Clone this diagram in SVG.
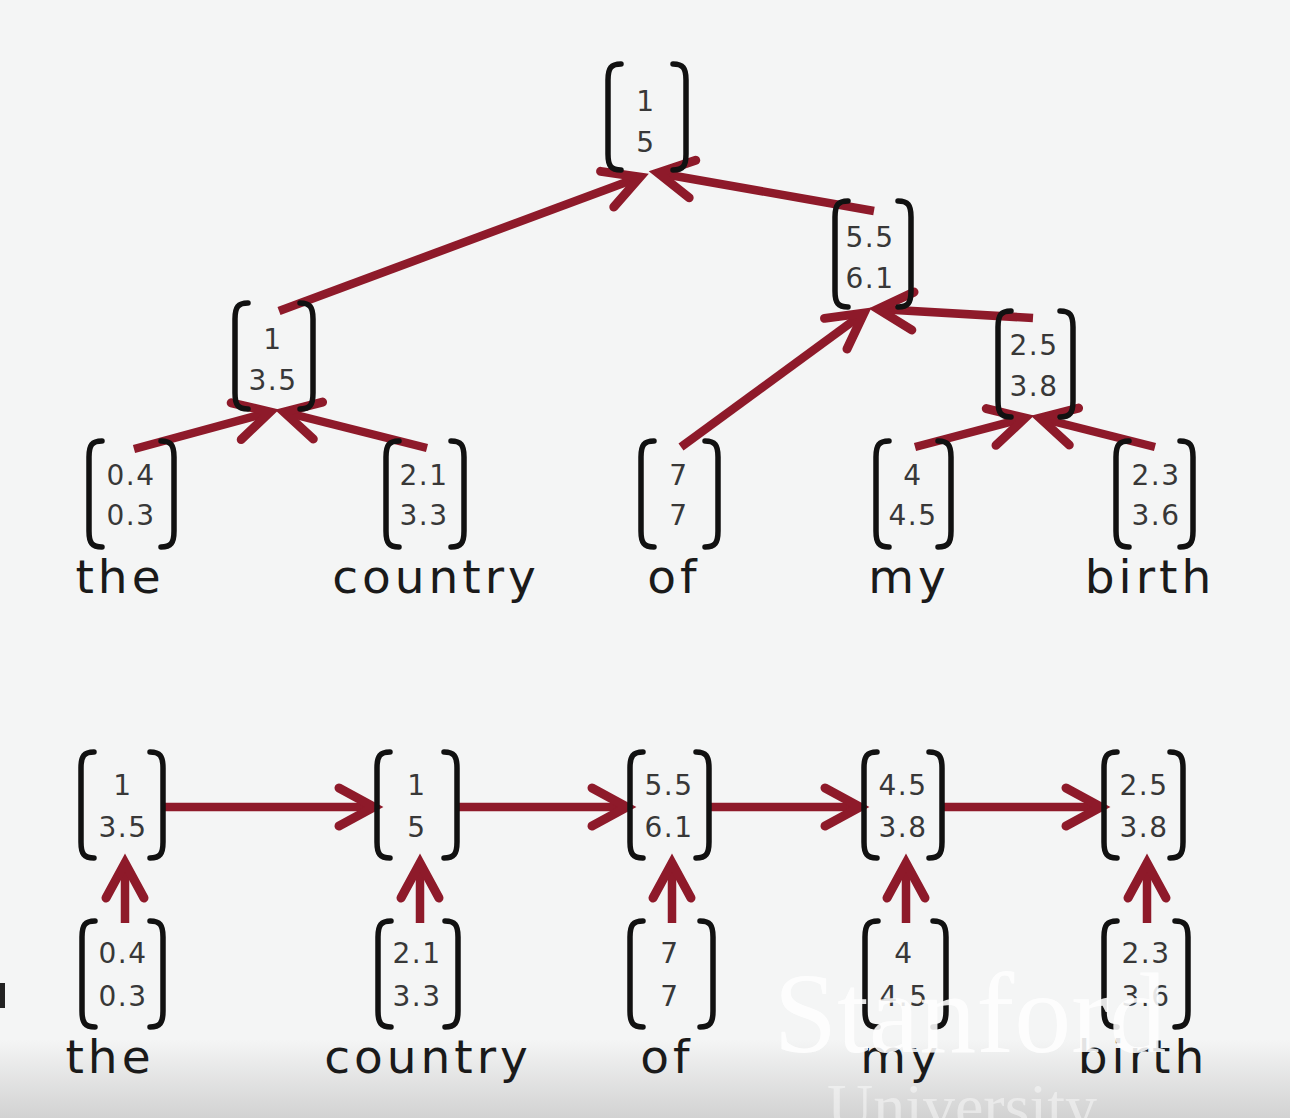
<svg xmlns="http://www.w3.org/2000/svg" width="1290" height="1118" viewBox="0 0 1290 1118">
<style>
.br{fill:none;stroke:#111;stroke-width:5.5;stroke-linecap:round}
.num{font-family:"DejaVu Sans",Verdana,sans-serif;font-size:28px;fill:#383838;text-anchor:middle;letter-spacing:1.5px}
.word{font-family:"DejaVu Sans",Verdana,sans-serif;font-size:47px;fill:#1a1a1a;text-anchor:middle;letter-spacing:4px}
.ar{fill:none;stroke:#8e1a2a;stroke-width:8.5;marker-end:url(#ah)}
.wm{font-family:"Liberation Serif","DejaVu Serif",serif;fill:#fff;text-anchor:middle}
</style>
<defs>
<linearGradient id="bg" x1="0" y1="0" x2="0" y2="1">
<stop offset="0" stop-color="#f4f5f5"/>
<stop offset="1" stop-color="#d2d2d2"/>
</linearGradient>
<marker id="ah" viewBox="-45 -26 52 52" refX="0" refY="0" markerWidth="52" markerHeight="52" markerUnits="userSpaceOnUse" orient="auto" overflow="visible">
<path d="M-35,-19 L0,0 L-35,19" fill="none" stroke="#8e1a2a" stroke-width="9" stroke-linecap="round" stroke-linejoin="miter"/>
</marker>
<path id="lb" class="br" d="M13,0 C3,0 0,4 0,16 L0,90 C0,102 3,106 13,106"/>
<path id="rb" class="br" d="M-13,0 C-3,0 0,4 0,16 L0,90 C0,102 -3,106 -13,106"/>
</defs>
<rect width="1290" height="1118" fill="#f4f5f5"/>
<rect y="1040" width="1290" height="78" fill="url(#bg)"/>
<rect x="0" y="983" width="5" height="25" fill="#222"/>

<g id="connectors">
<line class="ar" x1="134" y1="449" x2="270" y2="412"/>
<line class="ar" x1="427" y1="448" x2="284" y2="412"/>
<line class="ar" x1="681" y1="447" x2="864" y2="313"/>
<line class="ar" x1="915" y1="447" x2="1025" y2="418"/>
<line class="ar" x1="1155" y1="447" x2="1040" y2="418"/>
<line class="ar" x1="1033" y1="318" x2="878" y2="309"/>
<line class="ar" x1="279" y1="311" x2="640" y2="177"/>
<line class="ar" x1="874" y1="211" x2="658" y2="173"/>
<line class="ar" x1="163" y1="807" x2="374" y2="807"/>
<line class="ar" x1="457" y1="807" x2="627" y2="807"/>
<line class="ar" x1="709" y1="807" x2="860" y2="807"/>
<line class="ar" x1="942" y1="807" x2="1101" y2="807"/>
<line class="ar" x1="125" y1="923" x2="125" y2="863"/>
<line class="ar" x1="420" y1="923" x2="420" y2="863"/>
<line class="ar" x1="672" y1="923" x2="672" y2="863"/>
<line class="ar" x1="906" y1="923" x2="906" y2="863"/>
<line class="ar" x1="1147" y1="923" x2="1147" y2="863"/>
</g>

<g id="t-root"><use href="#lb" x="608" y="64"/><use href="#rb" x="686" y="64"/><text class="num" x="646" y="111">1</text><text class="num" x="646" y="152">5</text></g>
<g id="t-55"><use href="#lb" x="835" y="201"/><use href="#rb" x="911" y="201"/><text class="num" x="870" y="247">5.5</text><text class="num" x="870" y="288">6.1</text></g>
<g id="t-135"><use href="#lb" x="235" y="303"/><use href="#rb" x="313" y="303"/><text class="num" x="273" y="349">1</text><text class="num" x="273" y="390">3.5</text></g>
<g id="t-25"><use href="#lb" x="998" y="311"/><use href="#rb" x="1073" y="311"/><text class="num" x="1034" y="355">2.5</text><text class="num" x="1034" y="396">3.8</text></g>
<g id="t-the"><use href="#lb" x="89" y="441"/><use href="#rb" x="174" y="441"/><text class="num" x="131" y="485">0.4</text><text class="num" x="131" y="525">0.3</text><text class="word" x="120" y="593">the</text></g>
<g id="t-country"><use href="#lb" x="386" y="441"/><use href="#rb" x="464" y="441"/><text class="num" x="424" y="485">2.1</text><text class="num" x="424" y="525">3.3</text><text class="word" x="436" y="593">country</text></g>
<g id="t-of"><use href="#lb" x="641" y="441"/><use href="#rb" x="718" y="441"/><text class="num" x="679" y="485">7</text><text class="num" x="679" y="525">7</text><text class="word" x="674" y="593">of</text></g>
<g id="t-my"><use href="#lb" x="876" y="441"/><use href="#rb" x="951" y="441"/><text class="num" x="913" y="485">4</text><text class="num" x="913" y="525">4.5</text><text class="word" x="909" y="593">my</text></g>
<g id="t-birth"><use href="#lb" x="1116" y="441"/><use href="#rb" x="1193" y="441"/><text class="num" x="1156" y="485">2.3</text><text class="num" x="1156" y="525">3.6</text><text class="word" x="1150" y="593">birth</text></g>

<g id="b-h1"><use href="#lb" x="81" y="752"/><use href="#rb" x="163" y="752"/><text class="num" x="123" y="795">1</text><text class="num" x="123" y="837">3.5</text></g>
<g id="b-h2"><use href="#lb" x="377" y="752"/><use href="#rb" x="457" y="752"/><text class="num" x="417" y="795">1</text><text class="num" x="417" y="837">5</text></g>
<g id="b-h3"><use href="#lb" x="630" y="752"/><use href="#rb" x="709" y="752"/><text class="num" x="669" y="795">5.5</text><text class="num" x="669" y="837">6.1</text></g>
<g id="b-h4"><use href="#lb" x="864" y="752"/><use href="#rb" x="942" y="752"/><text class="num" x="903" y="795">4.5</text><text class="num" x="903" y="837">3.8</text></g>
<g id="b-h5"><use href="#lb" x="1104" y="752"/><use href="#rb" x="1183" y="752"/><text class="num" x="1144" y="795">2.5</text><text class="num" x="1144" y="837">3.8</text></g>
<g id="b-the"><use href="#lb" x="82" y="921"/><use href="#rb" x="163" y="921"/><text class="num" x="123" y="963">0.4</text><text class="num" x="123" y="1006">0.3</text><text class="word" x="110" y="1073">the</text></g>
<g id="b-country"><use href="#lb" x="378" y="921"/><use href="#rb" x="458" y="921"/><text class="num" x="417" y="963">2.1</text><text class="num" x="417" y="1006">3.3</text><text class="word" x="428" y="1073">country</text></g>
<g id="b-of"><use href="#lb" x="630" y="921"/><use href="#rb" x="713" y="921"/><text class="num" x="670" y="963">7</text><text class="num" x="670" y="1006">7</text><text class="word" x="667" y="1073">of</text></g>
<g id="b-my"><use href="#lb" x="865" y="921"/><use href="#rb" x="946" y="921"/><text class="num" x="904" y="963">4</text><text class="num" x="904" y="1006">4.5</text><text class="word" x="901" y="1073">my</text></g>
<g id="b-birth"><use href="#lb" x="1104" y="921"/><use href="#rb" x="1188" y="921"/><text class="num" x="1146" y="963">2.3</text><text class="num" x="1146" y="1006">3.6</text><text class="word" x="1143" y="1073">birth</text></g>

<g id="watermark">
<text class="wm" x="970" y="1052" font-size="114" opacity="0.88">Stanford</text>
<text class="wm" x="962" y="1128" font-size="64" opacity="0.45">University</text>
</g>
</svg>
